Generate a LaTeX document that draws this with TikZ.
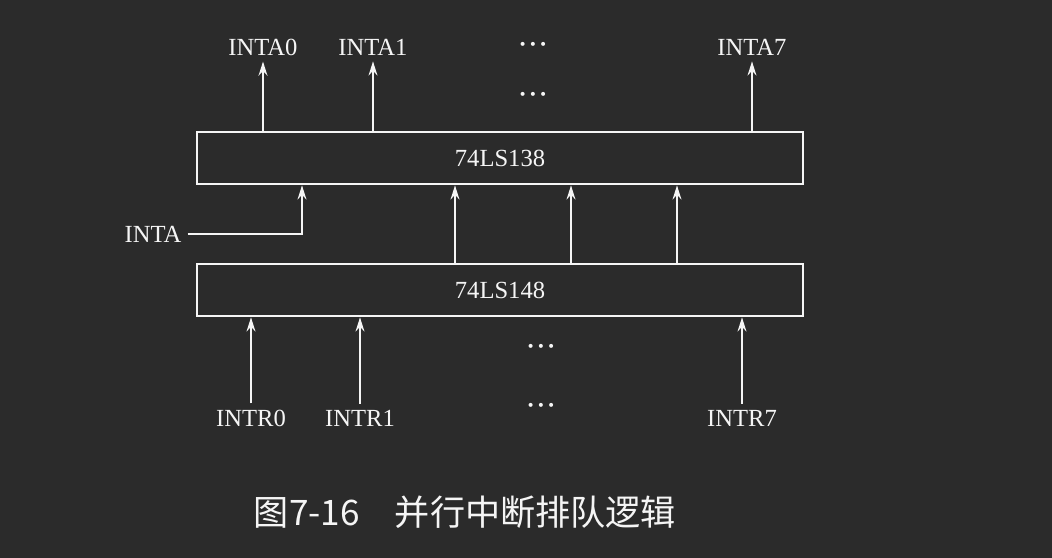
\documentclass[tikz,border=0pt]{standalone}
\usepackage{fontspec}
\setmainfont{Liberation Serif}
\newfontfamily\cjk{Noto Sans CJK SC}
\usepackage{tikz}
\usetikzlibrary{arrows.meta, positioning}
\definecolor{bgGray}{RGB}{43, 43, 43}
\definecolor{wireWhite}{RGB}{245, 245, 245}
\newcommand{\vdotsrow}{\textbf{·\kern1.2pt·\kern1.2pt·}}

\begin{document}
\begin{tikzpicture}[x=0.02cm, y=-0.02cm,
  every node/.style={font=\fontsize{14}{16}\selectfont, text=wireWhite},
  chip/.style={draw=wireWhite, line width=1.5pt, minimum width=12.12cm, minimum height=1.04cm, inner sep=0pt},
  sig/.style={draw=wireWhite, line width=1.5pt, -{Stealth[length=8pt, width=5pt]}}]
  \fill[bgGray] (0,0) rectangle (1052,558);
  \useasboundingbox (0,0) rectangle (1052,558);
  % chips
  \node[chip] (dec) at (500,158) {74LS138};
  \node[chip] (enc) at (500,290) {74LS148};
  % acknowledge outputs
  \node (a0) at (263,47) {INTA0};
  \node (a1) at (373,47) {INTA1};
  \node (adots) at (533,47) {\vdotsrow};
  \node (adots2) at (533,97) {\vdotsrow};
  \node (a7) at (752,47) {INTA7};
  \foreach \n in {a0,a1,a7}
    \draw[sig] (dec.north -| \n) -- (\n.south);
  % encoder to decoder
  \foreach \x [count=\i] in {455,571,677} {
    \coordinate (m\i) at (\x,0);
    \draw[sig] (enc.north -| m\i) -- (dec.south -| m\i);
  }
  % INTA enable
  \node (inta) at (153,234) {INTA};
  \coordinate (ia) at (302,0);
  \draw[sig] (inta.east) -| (dec.south -| ia);
  % request inputs
  \node (r0) at (251,418) {INTR0};
  \node (r1) at (360,418) {INTR1};
  \node (rdots) at (541,349) {\vdotsrow};
  \node (rdots2) at (541,408) {\vdotsrow};
  \node (r7) at (742,418) {INTR7};
  \foreach \n in {r0,r1,r7}
    \draw[sig] (\n.north) -- (enc.south -| \n);
  % caption
  \node[font=\cjk\fontsize{20}{22}\selectfont] (cap) at (465,512) {图7-16\hspace{1em}并行中断排队逻辑};
\end{tikzpicture}
\end{document}
